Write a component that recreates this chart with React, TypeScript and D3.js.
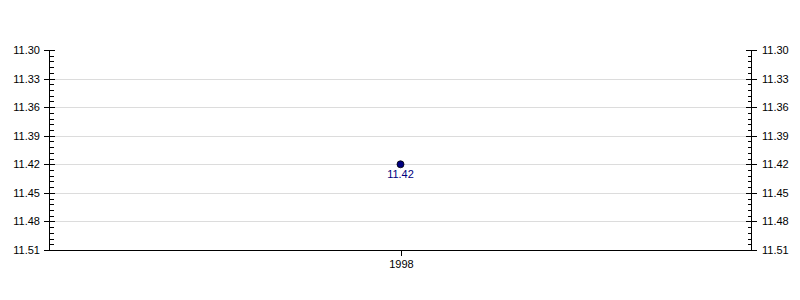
import React from "react";
import * as d3 from "d3";

const categories: string[] = ["1998"];
const values: number[] = [11.42];
const yTicks: number[] = [11.3, 11.33, 11.36, 11.39, 11.42, 11.45, 11.48, 11.51];
const yDomain: [number, number] = [11.3, 11.51];

const W = 800;
const H = 300;
const left = 50;
const right = 751;
const top = 50;
const bottom = 250;
const font = "Arial, 'Liberation Sans', sans-serif";

export default function App() {
  const x = d3.scaleBand<string>().domain(categories).range([left, right]);
  const y = d3.scaleLinear().domain(yDomain).range([top, bottom]);
  const minor: number[] = [];
  for (let i = 0; i < yTicks.length - 1; i++) {
    for (let k = 1; k < 5; k++) minor.push(yTicks[i] + ((yTicks[i + 1] - yTicks[i]) * k) / 5);
  }
  return (
    <svg width={W} height={H} style={{ position: "absolute", left: 0, top: 0 }}>
      <rect width={W} height={H} fill="#fff" />
      {yTicks.slice(1, -1).map((t) => (
        <line key={"g" + t} x1={left} x2={right} y1={Math.round(y(t)) + 0.5} y2={Math.round(y(t)) + 0.5} stroke="#dcdcdc" />
      ))}
      <line x1={left - 0.5} x2={left - 0.5} y1={top} y2={bottom} stroke="#000" />
      <line x1={right + 0.5} x2={right + 0.5} y1={top} y2={bottom} stroke="#000" />
      <line x1={left} x2={right + 1} y1={bottom + 0.5} y2={bottom + 0.5} stroke="#000" />
      {yTicks.map((t) => {
        const yy = Math.round(y(t)) + 0.5;
        return (
          <g key={"t" + t}>
            <line x1={left - 6} x2={left + 5} y1={yy} y2={yy} stroke="#000" />
            <line x1={right - 5} x2={right + 6} y1={yy} y2={yy} stroke="#000" />
            <text x={left - 10} y={yy} dy="0.35em" textAnchor="end" fontSize={11} fontFamily={font} fill="#000">
              {t.toFixed(2)}
            </text>
            <text x={right + 11} y={yy} dy="0.35em" textAnchor="start" fontSize={11} fontFamily={font} fill="#000">
              {t.toFixed(2)}
            </text>
          </g>
        );
      })}
      {minor.map((t, i) => {
        const yy = Math.round(y(t)) + 0.5;
        return (
          <g key={"m" + i}>
            <line x1={left} x2={left + 4} y1={yy} y2={yy} stroke="#000" />
            <line x1={right - 3} x2={right + 1} y1={yy} y2={yy} stroke="#000" />
          </g>
        );
      })}
      {categories.map((c) => {
        const cx = Math.round(x(c)! + x.bandwidth() / 2) + 0.5;
        return (
          <g key={c}>
            <line x1={cx} x2={cx} y1={bottom} y2={bottom + 6} stroke="#000" />
            <text x={cx} y={bottom + 18} textAnchor="middle" fontSize={11} fontFamily={font} fill="#000">
              {c}
            </text>
          </g>
        );
      })}
      {values.map((v, i) => {
        const cx = x(categories[i])! + x.bandwidth() / 2;
        const cy = y(v);
        return (
          <g key={"p" + i}>
            <circle cx={cx} cy={cy} r={3.5} fill="#000080" stroke="#000" strokeWidth={0.8} />
            <text x={cx} y={cy + 14} textAnchor="middle" fontSize={11} fontFamily={font} fill="#000080">
              {v.toFixed(2)}
            </text>
          </g>
        );
      })}
    </svg>
  );
}
